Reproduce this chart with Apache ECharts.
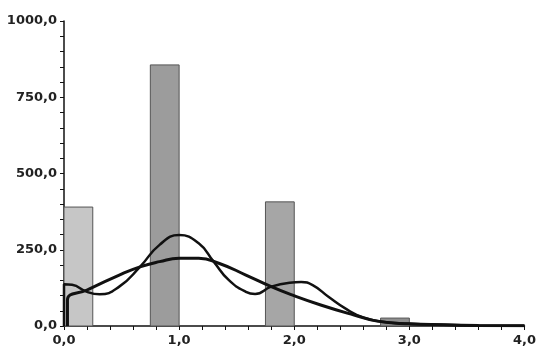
<!DOCTYPE html>
<html>
<head>
<meta charset="utf-8">
<script src="https://cdn.jsdelivr.net/npm/echarts@6/dist/echarts.min.js"></script>
<style>
  html, body { margin: 0; padding: 0; background: #fff; }
  #chart { width: 539px; height: 349px; }
</style>
</head>
<body>
<div id="chart"></div>
<script>
// histogram bins (x from / x to) and counts
const binStart = [0.0, 0.75, 1.75, 2.75]
const binEnd = [0.25, 1.0, 2.0, 3.0]
const counts = [390, 856, 407, 26]
const binColors = ['#c6c6c6', '#9c9c9c', '#a6a6a6', '#8e8e8e']

// wavy density curve
const curveAx = [0, 0, 0.07, 0.2, 0.31, 0.48, 0.66, 0.83, 1.0, 1.17, 1.3, 1.43, 1.58, 1.66, 1.8, 1.96, 2.06, 2.16, 2.3, 2.45, 2.6, 2.8, 3.0, 3.3, 3.6, 4.0]
const curveAy = [0, 137, 135, 112, 104, 129, 194, 266, 298, 271, 211, 151, 112, 105, 129, 142, 144, 134, 95, 56, 28, 12, 7, 4, 2, 1]

// smooth density curve
const curveBx = [0.03, 0.03, 0.2, 0.48, 0.66, 0.83, 1.0, 1.17, 1.35, 1.58, 1.8, 1.98, 2.23, 2.52, 2.72, 3.0, 3.3, 3.6, 4.0]
const curveBy = [0, 85, 118, 167, 194, 211, 222, 222, 205, 167, 129, 102, 69, 36, 16, 7, 4, 2, 1]

const fmt = v => v.toFixed(1).replace('.', ',')

const chart = echarts.init(document.getElementById('chart'))

const labelStyle = {
  formatter: fmt,
  color: '#222',
  fontFamily: 'DejaVu Sans',
  fontWeight: 'bold',
  fontSize: 13
}

let option = {
  animation: false,
  grid: { left: 64, right: 12, top: 21, bottom: 23 },
  xAxis: {
    type: 'value',
    min: 0,
    max: 4,
    interval: 1,
    splitLine: { show: false },
    axisLine: { lineStyle: { color: '#111', width: 1.5 } },
    axisTick: { length: 4, lineStyle: { color: '#111' } },
    minorTick: { show: true, splitNumber: 5, length: 4, lineStyle: { color: '#111' } },
    axisLabel: { ...labelStyle, margin: 8 }
  },
  yAxis: {
    type: 'value',
    min: 0,
    max: 1000,
    interval: 250,
    splitLine: { show: false },
    axisLine: { show: true, lineStyle: { color: '#111', width: 1.5 } },
    axisTick: { show: true, length: 4, lineStyle: { color: '#111' } },
    minorTick: { show: true, splitNumber: 5, length: 4, lineStyle: { color: '#111' } },
    axisLabel: { ...labelStyle, margin: 7 }
  },
  series: [
    {
      type: 'custom',
      data: counts.map((c, i) => [binStart[i], binEnd[i], c, i]),
      encode: { x: [0, 1], y: 2 },
      renderItem: (params, api) => {
        const p0 = api.coord([api.value(0), api.value(2)])
        const p1 = api.coord([api.value(1), 0])
        return {
          type: 'rect',
          shape: { x: p0[0], y: p0[1], width: p1[0] - p0[0], height: p1[1] - p0[1] },
          style: { fill: binColors[api.value(3)], stroke: '#555', lineWidth: 1 }
        }
      },
      z: 1
    },
    {
      type: 'line',
      data: curveAx.map((x, i) => [x, curveAy[i]]),
      smooth: 0.5,
      showSymbol: false,
      lineStyle: { color: '#111', width: 2.5 },
      z: 3
    },
    {
      type: 'line',
      data: curveBx.map((x, i) => [x, curveBy[i]]),
      smooth: 0.5,
      showSymbol: false,
      lineStyle: { color: '#111', width: 3 },
      z: 3
    }
  ]
}
chart.setOption(option)
</script>
</body>
</html>
